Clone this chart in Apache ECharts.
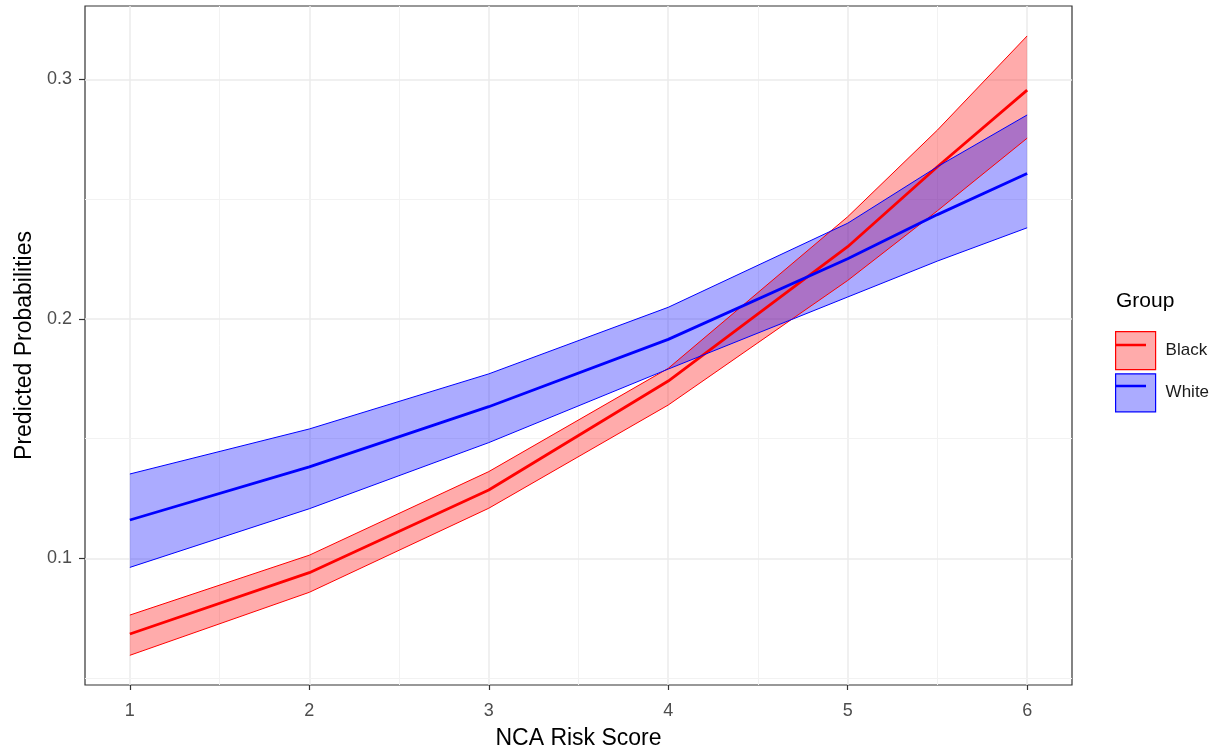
<!DOCTYPE html>
<html>
<head>
<meta charset="utf-8">
<script src="https://cdn.jsdelivr.net/npm/echarts@6/dist/echarts.min.js"></script>
<style>
  html, body { margin: 0; padding: 0; background: #fff; }
  #chart { width: 1225px; height: 751px; }
</style>
</head>
<body>
<div id="chart"></div>
<script>
// NCA risk score (x) and predicted probabilities
const scores = [1, 2, 3, 4, 5, 5.5, 6];
const blackFit  = [0.0684, 0.0940, 0.1285, 0.1740, 0.2301, 0.2635, 0.2955];
const blackLow  = [0.0595, 0.0858, 0.1209, 0.1640, 0.2160, 0.2451, 0.2754];
const blackHigh = [0.0763, 0.1013, 0.1362, 0.1793, 0.2426, 0.2788, 0.3181];
const whiteFit  = [0.1160, 0.1382, 0.1633, 0.1914, 0.2251, 0.2435, 0.2607];
const whiteLow  = [0.0962, 0.1207, 0.1483, 0.1790, 0.2091, 0.2241, 0.2380];
const whiteHigh = [0.1352, 0.1540, 0.1770, 0.2048, 0.2399, 0.2635, 0.2851];

const xTicks = [1, 2, 3, 4, 5, 6];
const xMinor = [1.5, 2.5, 3.5, 4.5, 5.5];
const yTicks = [0.1, 0.2, 0.3];
const yMinor = [0.05, 0.15, 0.25];

const font = "'Liberation Sans', Arial, sans-serif";
let chart = echarts.init(document.getElementById('chart'));

// pair up x with a y array
function pts(ys) {
  return scores.map((x, i) => [x, ys[i]]);
}

// confidence band: one polygon through the upper bound then back along the lower
function ribbon(name, lo, hi, color, fill) {
  return {
    name: name, type: 'custom', silent: true, z: 2,
    data: scores.map((x, i) => [x, lo[i], hi[i]]),
    encode: { x: 0, y: [1, 2] },
    itemStyle: { color: fill },
    renderItem: function (params, api) {
      if (params.dataIndex !== 0) return;
      let poly = [];
      scores.forEach((x, i) => poly.push(api.coord([x, hi[i]])));
      for (let i = scores.length - 1; i >= 0; i--) poly.push(api.coord([scores[i], lo[i]]));
      return {
        type: 'polygon',
        shape: { points: poly },
        style: { fill: fill, stroke: null }
      };
    }
  };
}

function edge(name, ys, color, width) {
  return {
    name: name, type: 'line', data: pts(ys), symbol: 'none', silent: true, z: 2,
    lineStyle: { color: color, width: width }, itemStyle: { color: color }
  };
}

let gridLines = [];
xTicks.forEach(v => gridLines.push({ xAxis: v, lineStyle: { color: '#EBEBEB', width: 1.5, type: 'solid' } }));
xMinor.forEach(v => gridLines.push({ xAxis: v, lineStyle: { color: '#F2F2F2', width: 1, type: 'solid' } }));
yTicks.forEach(v => gridLines.push({ yAxis: v, lineStyle: { color: '#EBEBEB', width: 1.5, type: 'solid' } }));
yMinor.forEach(v => gridLines.push({ yAxis: v, lineStyle: { color: '#F2F2F2', width: 1, type: 'solid' } }));

let option = {
  backgroundColor: '#fff',
  animation: false,
  textStyle: { fontFamily: font },
  title: {
    text: 'Group', left: 1111, top: 286,
    textStyle: { fontFamily: font, fontSize: 21, fontWeight: 'normal', color: '#000' }
  },
  legend: {
    orient: 'vertical', left: 1110, top: 326,
    itemWidth: 40, itemHeight: 38, itemGap: 3, icon: 'rect',
    selectedMode: false,
    textStyle: { fontFamily: font, fontSize: 17, color: '#1A1A1A', padding: [0, 0, 0, 5] },
    data: [
      { name: 'Black', itemStyle: { color: 'rgba(255,0,0,0.33)', borderColor: '#FF0000', borderWidth: 1.2 } },
      { name: 'White', itemStyle: { color: 'rgba(0,0,255,0.33)', borderColor: '#0000FF', borderWidth: 1.2 } }
    ]
  },
  graphic: [
    { type: 'line', shape: { x1: 1116, y1: 345, x2: 1146, y2: 345 }, style: { stroke: '#FF0000', lineWidth: 2.5 }, z: 100 },
    { type: 'line', shape: { x1: 1116, y1: 386, x2: 1146, y2: 386 }, style: { stroke: '#0000FF', lineWidth: 2.5 }, z: 100 }
  ],
  grid: {
    left: 85, top: 6, width: 987, height: 679,
    containLabel: false, outerBoundsMode: 'none',
    show: true, borderColor: '#333333', borderWidth: 1.2, backgroundColor: 'transparent'
  },
  xAxis: {
    type: 'value', min: 0.75, max: 6.25,
    name: 'NCA Risk Score', nameLocation: 'middle', nameGap: 42,
    nameTextStyle: { fontFamily: font, fontSize: 23, color: '#000' },
    axisLine: { show: false },
    axisTick: { show: true, length: 5, customValues: xTicks, lineStyle: { color: '#333333', width: 1.2 } },
    axisLabel: { customValues: xTicks, margin: 17, fontSize: 18, color: '#4D4D4D', fontFamily: font },
    splitLine: { show: false }
  },
  yAxis: {
    type: 'value', min: 0.0471, max: 0.3306,
    name: 'Predicted Probabilities', nameLocation: 'middle', nameGap: 49,
    nameTextStyle: { fontFamily: font, fontSize: 23, color: '#000' },
    axisLine: { show: false },
    axisTick: { show: true, length: 6, customValues: yTicks, lineStyle: { color: '#333333', width: 1.2 } },
    axisLabel: {
      customValues: yTicks, margin: 13, fontSize: 18, color: '#4D4D4D', fontFamily: font,
      formatter: v => v.toFixed(1)
    },
    splitLine: { show: false }
  },
  series: [
    {
      name: 'grid', type: 'line', data: [], z: 0, silent: true,
      markLine: { z: 0, silent: true, symbol: 'none', label: { show: false }, animation: false, data: gridLines }
    },
    ribbon('Black', blackLow, blackHigh, '#FF0000', 'rgba(255,0,0,0.33)'),
    edge('Black low', blackLow, '#FF0000', 1),
    edge('Black high', blackHigh, '#FF0000', 1),
    edge('Black fit', blackFit, '#FF0000', 2.8),
    ribbon('White', whiteLow, whiteHigh, '#0000FF', 'rgba(0,0,255,0.33)'),
    edge('White low', whiteLow, '#0000FF', 1),
    edge('White high', whiteHigh, '#0000FF', 1),
    edge('White fit', whiteFit, '#0000FF', 2.8)
  ]
};

chart.setOption(option);
window.onresize = function () {
  chart.resize();
};
</script>
</body>
</html>
